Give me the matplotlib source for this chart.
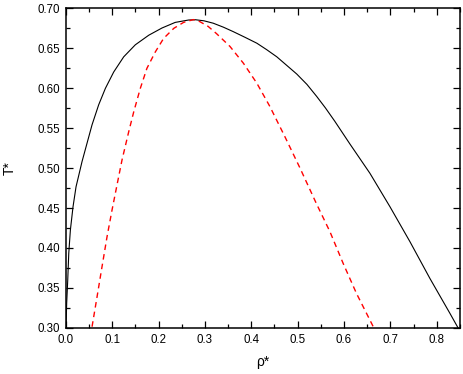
import matplotlib
matplotlib.use("Agg")
import matplotlib.pyplot as plt
from matplotlib.ticker import MultipleLocator

# binodal (coexistence curve)
rho_bin = [0.0, 0.0006, 0.002, 0.0043, 0.0065, 0.010, 0.0157, 0.0222, 0.0265,
           0.0351, 0.0459, 0.0567, 0.071, 0.0855, 0.1034, 0.125, 0.150,
           0.179, 0.2075, 0.236, 0.265, 0.280, 0.298, 0.318, 0.340, 0.361,
           0.386, 0.412, 0.433, 0.455, 0.476, 0.498, 0.520, 0.541, 0.560,
           0.580, 0.6127, 0.6558, 0.699, 0.7421, 0.7851, 0.8282, 0.846]
t_bin = [0.29, 0.3016, 0.331, 0.36, 0.3934, 0.4225, 0.4516, 0.4766, 0.487,
         0.508, 0.531, 0.554, 0.579, 0.5996, 0.620, 0.639, 0.654,
         0.666, 0.675, 0.682, 0.685, 0.6853, 0.684, 0.681, 0.676, 0.6705,
         0.6635, 0.656, 0.648, 0.639, 0.6285, 0.6175, 0.6045, 0.5895, 0.5750,
         0.5585, 0.530, 0.4934, 0.4516, 0.4079, 0.362, 0.3184, 0.30]

# spinodal
rho_spin = [0.0567, 0.0675, 0.0782, 0.089, 0.0998, 0.1106, 0.1213, 0.1358,
            0.1465, 0.1608, 0.175, 0.193, 0.211, 0.233, 0.254, 0.275, 0.289,
            0.307, 0.325, 0.354, 0.383, 0.412, 0.440, 0.4726, 0.505, 0.540,
            0.5696, 0.598, 0.627, 0.663]
t_spin = [0.3016, 0.339, 0.3766, 0.414, 0.4475, 0.479, 0.510, 0.5454,
          0.570, 0.5996, 0.6246, 0.645, 0.662, 0.6746, 0.682, 0.6855, 0.683,
          0.677, 0.668, 0.652, 0.631, 0.606, 0.577, 0.539, 0.50, 0.456,
          0.4204, 0.3809, 0.343, 0.3016]

plt.rcParams['font.family'] = ['Liberation Sans', 'DejaVu Sans']

fig = plt.figure(figsize=(4.63, 3.74), dpi=100)
ax = fig.add_axes([0.142, 0.123, 0.8515, 0.8556])

ax.plot(rho_bin, t_bin, color='black', lw=0.8)
ax.plot(rho_spin, t_spin, color='red', lw=1.0, dashes=(4, 3))

ax.set_xlim(0, 0.85)
ax.set_ylim(0.30, 0.70)
ax.xaxis.set_major_locator(MultipleLocator(0.1))
ax.xaxis.set_minor_locator(MultipleLocator(0.05))
ax.yaxis.set_major_locator(MultipleLocator(0.05))
ax.yaxis.set_minor_locator(MultipleLocator(0.025))
ax.xaxis.set_major_formatter(plt.FormatStrFormatter('%.1f'))
ax.yaxis.set_major_formatter(plt.FormatStrFormatter('%.2f'))

ax.tick_params(which='both', direction='in', top=True, right=True,
               labelsize=8.3, width=0.9)
ax.tick_params(which='major', length=5, pad=4)
ax.tick_params(which='minor', length=3)
for s in ax.spines.values():
    s.set_linewidth(1.1)

ax.set_xlabel('ρ*', fontsize=10, labelpad=7)
ax.set_ylabel('T*', fontsize=10, labelpad=15)

fig.savefig('out.png', dpi=100)
